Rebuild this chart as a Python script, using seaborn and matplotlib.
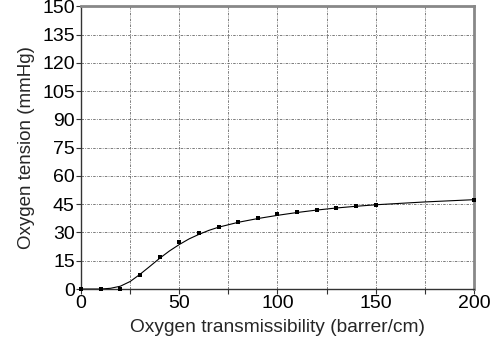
import matplotlib
matplotlib.use("Agg")
import matplotlib.pyplot as plt
import seaborn as sns
import pandas as pd
from matplotlib.ticker import MultipleLocator, FuncFormatter

# Measured points
trans_x = [0, 10, 20, 30, 40, 50, 60, 70, 80, 90, 100, 110, 120, 130, 140, 150, 200]
tension_y = [0, 0, 0, 7.5, 17.0, 24.8, 29.7, 32.9, 35.4, 37.5, 39.6, 40.9, 42.1, 42.8, 44.2, 44.5, 47.2]

# Fitted curve
fit_x = [0, 10, 15, 20, 25, 30, 35, 40, 45, 50, 55, 60, 65, 70, 80, 90, 100,
         110, 120, 130, 140, 150, 175, 200]
fit_y = [0, 0, 0.4, 1.5, 4.0, 7.8, 12.0, 16.3, 20.2, 23.6, 26.6, 29.0, 31.1, 32.8,
         35.4, 37.4, 39.1, 40.6, 41.9, 43.0, 43.9, 44.7, 46.2, 47.4]

x_ticks = [0, 50, 100, 150, 200]
y_ticks = [0, 15, 30, 45, 60, 75, 90, 105, 120, 135, 150]

sns.set_theme(style="white")
plt.rcParams["font.family"] = ["Liberation Sans", "DejaVu Sans"]

fig = plt.figure(figsize=(4.98, 3.47), dpi=100)
ax = fig.add_axes([0.1627, 0.167, 0.789, 0.815])

pts = pd.DataFrame({"x": trans_x, "y": tension_y})
fit = pd.DataFrame({"x": fit_x, "y": fit_y})

sns.lineplot(data=fit, x="x", y="y", ax=ax, color="black", lw=0.8, zorder=3)
sns.scatterplot(data=pts, x="x", y="y", ax=ax, color="black", marker="s",
                s=8, linewidth=0, zorder=4, clip_on=False)

ax.set_xlim(0, 200)
ax.set_ylim(0, 150)
ax.xaxis.set_major_locator(MultipleLocator(25))
ax.xaxis.set_major_formatter(FuncFormatter(lambda v, p: f"{int(v)}" if int(v) in x_ticks else ""))
ax.set_yticks(y_ticks)

grid_style = dict(color="#666666", lw=0.6, linestyle=(0, (3, 1.5, 1, 1.5)))
ax.grid(True, **grid_style)
ax.set_axisbelow(True)

ax.tick_params(axis="both", which="major", direction="out", length=3.5, width=0.8,
               color="#333333", labelsize=14, pad=1, labelcolor="black")
ax.tick_params(left=True, bottom=True)

for side in ("left", "bottom"):
    ax.spines[side].set_color("#333333")
    ax.spines[side].set_linewidth(1.0)
for side in ("top", "right"):
    ax.spines[side].set_color("#888888")
    ax.spines[side].set_linewidth(2.0)

ax.set_xlabel("Oxygen transmissibility (barrer/cm)", fontsize=13.8, labelpad=5)
ax.set_ylabel("Oxygen tension (mmHg)", fontsize=13.5, labelpad=5)

fig.savefig("out.png", dpi=100)
